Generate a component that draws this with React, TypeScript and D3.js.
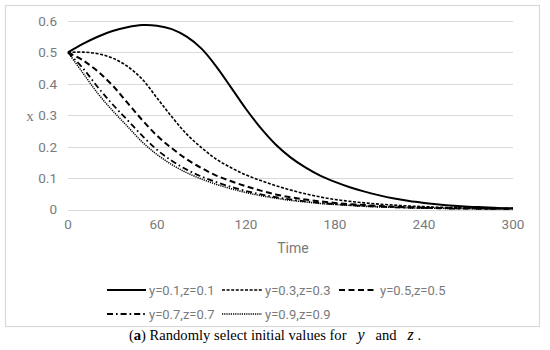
import React from "react";
import * as d3 from "d3";

const times = [0,10,20,30,40,50,60,70,80,90,100,110,120,130,140,150,160,170,180,190,200,210,220,230,240,250,260,270,280,290,300];
const seriesNames = ["y=0.1,z=0.1","y=0.3,z=0.3","y=0.5,z=0.5","y=0.7,z=0.7","y=0.9,z=0.9"];
const s1 = [0.5,0.527,0.55,0.568,0.58,0.587,0.585,0.574,0.55,0.512,0.455,0.388,0.32,0.259,0.207,0.166,0.134,0.108,0.088,0.071,0.057,0.045,0.035,0.027,0.021,0.016,0.012,0.009,0.007,0.005,0.004];
const s2 = [0.5,0.501,0.496,0.482,0.456,0.415,0.355,0.295,0.24,0.197,0.16,0.133,0.11,0.092,0.076,0.062,0.05,0.04,0.032,0.026,0.021,0.017,0.014,0.011,0.009,0.007,0.006,0.005,0.004,0.003,0.003];
const s3 = [0.5,0.475,0.44,0.395,0.34,0.285,0.235,0.195,0.16,0.132,0.108,0.09,0.074,0.06,0.048,0.039,0.032,0.026,0.021,0.017,0.014,0.011,0.009,0.007,0.006,0.005,0.004,0.004,0.003,0.003,0.003];
const s4 = [0.5,0.45,0.39,0.335,0.285,0.235,0.19,0.155,0.127,0.105,0.087,0.072,0.059,0.048,0.039,0.032,0.026,0.021,0.017,0.014,0.011,0.009,0.007,0.006,0.005,0.004,0.003,0.003,0.002,0.002,0.002];
const s5 = [0.5,0.435,0.37,0.315,0.265,0.215,0.175,0.143,0.117,0.097,0.08,0.066,0.054,0.044,0.036,0.029,0.024,0.019,0.016,0.013,0.01,0.008,0.007,0.005,0.004,0.004,0.003,0.003,0.002,0.002,0.002];
const xTicks = [0,60,120,180,240,300];
const yTicks = [0,0.1,0.2,0.3,0.4,0.5,0.6];

const allSeries = [s1, s2, s3, s4, s5];
const styles = [
  { dash: "none", w: 2 },
  { dash: "3,1.6", w: 1.6 },
  { dash: "6,3.5", w: 2 },
  { dash: "6,3,1.6,3", w: 1.8 },
  { dash: "1.2,1", w: 1.5 },
];
const legendPos = [
  { x1: 107, x2: 146, tx: 149, y: 290 },
  { x1: 222, x2: 262, tx: 265, y: 290 },
  { x1: 339, x2: 376, tx: 380, y: 290 },
  { x1: 107, x2: 146, tx: 149, y: 314 },
  { x1: 222, x2: 262, tx: 265, y: 314 },
];

export default function App() {
  const x = d3.scaleLinear().domain([0, 300]).range([68, 513]);
  const y = d3.scaleLinear().domain([0, 0.6]).range([209.5, 21]);
  const line = d3
    .line<number>()
    .x((_, i) => x(times[i]))
    .y((v) => y(v))
    .curve(d3.curveCatmullRom.alpha(0.5));
  const gray = "#7a7a7a";
  const font = "Roboto, 'Noto Sans', sans-serif";
  return (
    <svg width={550} height={350} style={{ position: "absolute", left: 0, top: 0, background: "#fff" }}>
      <rect x={0} y={0} width={550} height={350} fill="#fff" />
      <rect x={5.5} y={5.5} width={534} height={321} fill="none" stroke="#d9d9d9" strokeWidth={1.2} />
      {yTicks.map((t) => (
        <g key={t}>
          <line x1={x(0)} x2={x(300)} y1={Math.round(y(t)) + 0.5} y2={Math.round(y(t)) + 0.5} stroke="#d9d9d9" strokeWidth={1.2} />
          <text x={57} y={y(t)} dy="0.36em" textAnchor="end" fontFamily={font} fontSize={13.5} fill={gray}>
            {t === 0 ? "0" : t.toFixed(1)}
          </text>
        </g>
      ))}
      {xTicks.map((t) => (
        <text key={t} x={x(t)} y={229} textAnchor="middle" fontFamily={font} fontSize={13.5} fill={gray}>
          {t}
        </text>
      ))}
      <text x={30} y={121} textAnchor="middle" fontFamily="'Liberation Serif', serif" fontSize={15} fill={gray}>x</text>
      <text x={293} y={253} textAnchor="middle" fontFamily={font} fontSize={14} fill={gray}>Time</text>
      {allSeries.map((s, i) => (
        <path key={i} d={line(s) || ""} fill="none" stroke="#000" strokeWidth={styles[i].w} strokeDasharray={styles[i].dash} />
      ))}
      {seriesNames.map((n, i) => (
        <g key={n}>
          <line x1={legendPos[i].x1} x2={legendPos[i].x2} y1={legendPos[i].y} y2={legendPos[i].y} stroke="#000" strokeWidth={styles[i].w} strokeDasharray={styles[i].dash} />
          <text x={legendPos[i].tx} y={legendPos[i].y} dy="0.36em" fontFamily={font} fontSize={13} fill={gray}>{n}</text>
        </g>
      ))}
      <text x={275} y={340} textAnchor="middle" fontFamily="'Liberation Serif', serif" fontSize={14.6} fill="#000">
        (<tspan fontWeight="bold">a</tspan>) Randomly select initial values for{"\u00A0\u00A0\u00A0"}
        <tspan fontStyle="italic" fontSize={16}>y</tspan>{"\u00A0\u00A0\u00A0"}and{"\u00A0\u00A0\u00A0"}
        <tspan fontStyle="italic" fontSize={16}>z</tspan>{"\u00A0"}.
      </text>
    </svg>
  );
}
